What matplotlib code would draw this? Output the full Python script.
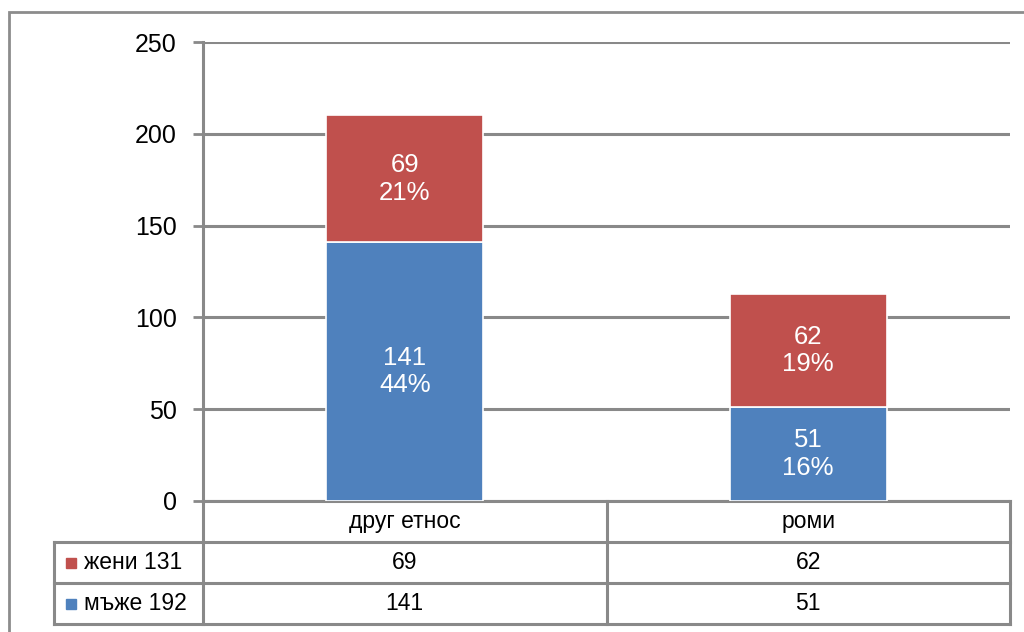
import matplotlib
matplotlib.use("Agg")
import matplotlib.pyplot as plt
from matplotlib.patches import Rectangle

# Data
categories = ["друг етнос", "роми"]
men = [141, 51]
women = [69, 62]
y_ticks = [0, 50, 100, 150, 200, 250]

BLUE = "#4F81BD"
RED = "#C0504D"
GRID = "#898989"

plt.rcParams["font.family"] = ["Liberation Sans", "DejaVu Sans"]

W, H = 1024, 632
fig = plt.figure(figsize=(W / 100, H / 100), dpi=100)

# plot area in pixels
x0, x1 = 203, 1010
ytop, ybot = 42, 501
ax = fig.add_axes([x0 / W, 1 - ybot / H, (x1 - x0) / W, (ybot - ytop) / H])

total = sum(men) + sum(women)
xs = list(range(len(categories)))
bar_w = 0.39
ax.bar(xs, men, width=bar_w, color=BLUE, edgecolor="white", linewidth=1.2, zorder=3)
ax.bar(xs, women, width=bar_w, bottom=men, color=RED, edgecolor="white", linewidth=1.2, zorder=3)

for i in xs:
    for val, base in ((men[i], 0), (women[i], men[i])):
        pct = round(100 * val / total)
        ax.text(i, base + val / 2, f"{val}\n{pct}%", ha="center", va="center",
                color="white", fontsize=18.5, linespacing=1.2, zorder=4)

ax.set_xlim(-0.5, len(categories) - 0.5)
ax.set_ylim(0, 250)
ax.set_yticks(y_ticks)
ax.set_xticks([])
ax.yaxis.grid(True, color=GRID, linewidth=2.2, zorder=0)
ax.set_axisbelow(True)
for s in ("top", "right", "bottom"):
    ax.spines[s].set_visible(False)
ax.spines["left"].set_color(GRID)
ax.spines["left"].set_linewidth(2.2)
ax.tick_params(axis="y", length=7, width=2, color=GRID, pad=12, labelsize=18)

# data table below the plot area
row_h = 41 / (ybot - ytop)
left_col = (54 - x0) / (x1 - x0)
tr = ax.transAxes
lw = 2.2
line_kw = dict(transform=tr, color=GRID, linewidth=lw, clip_on=False, solid_capstyle="projecting")

# horizontal lines
ax.plot([0, 1], [0, 0], **line_kw)
for r in (1, 2, 3):
    ax.plot([left_col, 1], [-r * row_h, -r * row_h], **line_kw)
# vertical lines
ax.plot([0, 0], [0, -3 * row_h], **line_kw)
ax.plot([1, 1], [0, -3 * row_h], **line_kw)
ax.plot([0.5, 0.5], [0, -3 * row_h], **line_kw)
ax.plot([left_col, left_col], [-row_h, -3 * row_h], **line_kw)

fs_tab = 16.5
for i, cat in enumerate(categories):
    cx = (i + 0.5) / len(categories)
    ax.text(cx, -0.5 * row_h, cat, transform=tr, ha="center", va="center", fontsize=fs_tab)
    ax.text(cx, -1.5 * row_h, str(women[i]), transform=tr, ha="center", va="center",
            fontsize=fs_tab)
    ax.text(cx, -2.5 * row_h, str(men[i]), transform=tr, ha="center", va="center",
            fontsize=fs_tab)

# series legend keys inside the table
rows = [("жени", women, RED, 1.5), ("мъже", men, BLUE, 2.5)]
sq = 10 / (x1 - x0)
sq_h = 10 / (ybot - ytop)
for name, vals, col, r in rows:
    kx = (66 - x0) / (x1 - x0)
    ax.add_patch(Rectangle((kx, -r * row_h - sq_h / 2), sq, sq_h, transform=tr,
                           color=col, clip_on=False))
    ax.text((84 - x0) / (x1 - x0), -r * row_h, f"{name} {sum(vals)}", transform=tr,
            ha="left", va="center", fontsize=fs_tab)

# outer chart frame
frame = Rectangle((9 / W, -0.1), 1.2, 1 - 12 / H + 0.1, transform=fig.transFigure,
                  fill=False, edgecolor="#8C8C8C", linewidth=2, clip_on=False)
fig.add_artist(frame)

fig.savefig("out.png", dpi=100, facecolor="white")
